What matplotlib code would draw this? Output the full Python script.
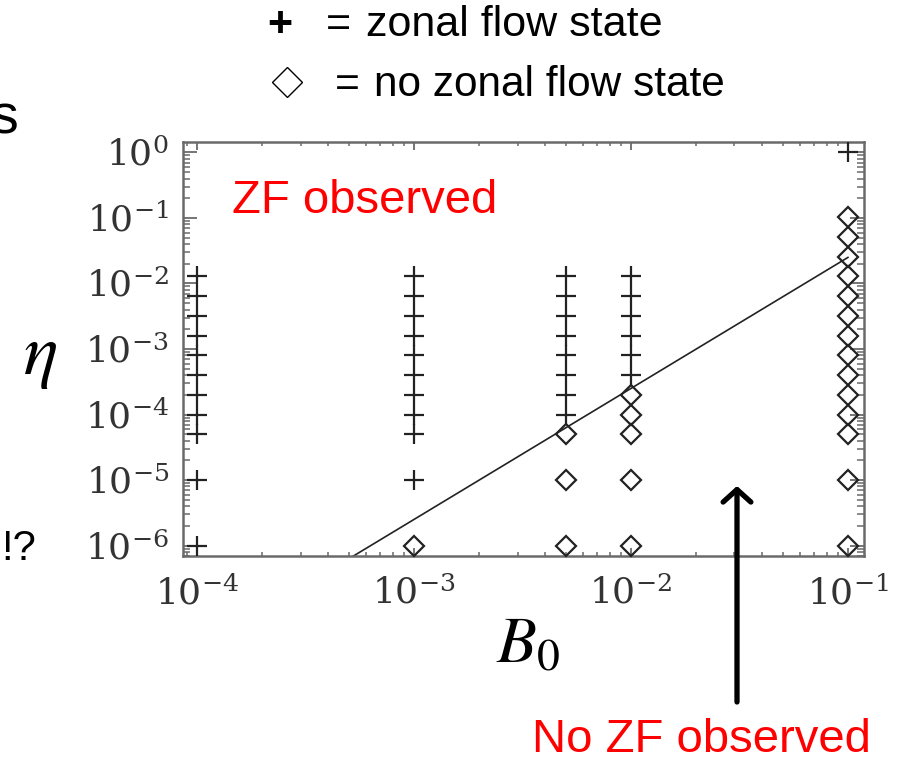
import numpy as np
import matplotlib
matplotlib.use('Agg')
import matplotlib.pyplot as plt
from matplotlib.ticker import LogLocator, FuncFormatter, NullFormatter

W, H = 909, 763

# zonal flow state (+), one list of eta values per B0 column
zf_b0 = [1e-4, 1e-3, 5e-3, 1e-2, 1e-1]
zf_eta = [
    [1e-6, 1e-5, 5e-5, 1e-4, 2e-4, 4e-4, 8e-4, 1.6e-3, 3.2e-3, 6.4e-3, 1.28e-2],
    [1e-5, 5e-5, 1e-4, 2e-4, 4e-4, 8e-4, 1.6e-3, 3.2e-3, 6.4e-3, 1.28e-2],
    [1e-4, 2e-4, 4e-4, 8e-4, 1.6e-3, 3.2e-3, 6.4e-3, 1.28e-2],
    [4e-4, 8e-4, 1.6e-3, 3.2e-3, 6.4e-3, 1.28e-2],
    [1.0],
]

# no zonal flow state (diamonds)
nzf_b0 = [1e-3, 5e-3, 1e-2, 1e-1]
nzf_eta = [
    [1e-6],
    [1e-6, 1e-5, 5e-5],
    [1e-6, 1e-5, 5e-5, 1e-4, 2e-4],
    [1e-6, 1e-5, 5e-5, 1e-4, 2e-4, 4e-4, 8e-4, 1.6e-3, 3.2e-3, 6.4e-3,
     1.28e-2, 2.56e-2, 5.12e-2, 1.024e-1],
]

# boundary line eta = c * B0^2
line_coef = 2.5
line_b0 = np.array([5e-4, 1e-1])

plt.rcParams['font.family'] = ['Liberation Sans', 'DejaVu Sans']
plt.rcParams['mathtext.fontset'] = 'dejavuserif'


def fx(x):
    return x / W


def fy(y):
    return 1 - y / H


fig = plt.figure(figsize=(W / 100, H / 100), dpi=100)
ax = fig.add_axes([fx(183), fy(556), (864 - 183) / W, (556 - 142) / H])

frame = '#6a6a6a'
ink = '#222222'

ax.plot(line_b0, line_coef * line_b0 ** 2, color=ink, lw=1.2, zorder=2)

for b, etas in zip(zf_b0, zf_eta):
    ax.plot([b] * len(etas), etas, ls='none', marker='+', ms=14, mew=1.6,
            color=ink, clip_on=False, zorder=3)

for b, etas in zip(nzf_b0, nzf_eta):
    ax.plot([b] * len(etas), etas, ls='none', marker='D', ms=10, mew=1.6,
            mfc='none', mec=ink, clip_on=False, zorder=3)

ax.set_xscale('log')
ax.set_yscale('log')
ax.set_xlim(10 ** -4.0645, 10 ** -0.926)
ax.set_ylim(10 ** -6.16, 10 ** 0.16)

fmt = FuncFormatter(lambda v, p: r'$10^{%d}$' % round(np.log10(v)))
for axis in (ax.xaxis, ax.yaxis):
    axis.set_major_locator(LogLocator(base=10, numticks=12))
    axis.set_minor_locator(LogLocator(base=10, subs=np.arange(2, 10), numticks=12))
    axis.set_major_formatter(fmt)
    axis.set_minor_formatter(NullFormatter())

ax.tick_params(which='both', direction='in', top=True, right=True,
               color=frame, labelcolor='#333333', labelsize=26)
ax.tick_params(axis='x', which='major', length=6, width=1.3, pad=15)
ax.tick_params(axis='x', which='minor', length=3, width=1.1)
ax.tick_params(axis='y', which='major', length=10, width=1.3, pad=10)
ax.tick_params(axis='y', which='minor', length=5, width=1.1)
for s in ax.spines.values():
    s.set_color(frame)
    s.set_linewidth(1.8)

# legend at the top
fig.text(fx(280), fy(36), '+', fontsize=31, ha='center', va='baseline',
         fontweight='bold')
fig.text(fx(338), fy(36), '=', fontsize=31, ha='center', va='baseline')
fig.text(fx(366), fy(36), 'zonal flow state', fontsize=31, ha='left', va='baseline')
fig.lines.append(plt.Line2D([fx(287)], [fy(82)], marker='D', ms=15, mew=1.0,
                            mfc='none', mec='black', transform=fig.transFigure))
fig.text(fx(347), fy(96), '=', fontsize=30.5, ha='center', va='baseline')
fig.text(fx(374), fy(96), 'no zonal flow state', fontsize=30.5, ha='left', va='baseline')

# annotations
fig.text(fx(232), fy(213), 'ZF observed', fontsize=34, color='#ff0000',
         ha='left', va='baseline')
fig.text(fx(532), fy(752), 'No ZF observed', fontsize=34, color='#ff0000',
         ha='left', va='baseline')
fig.text(fx(40), fy(357), r'$\eta$', fontsize=52, ha='center', va='center',
         math_fontfamily='stix')
fig.text(fx(496), fy(663), r'$B_0$', fontsize=47, ha='left', va='baseline',
         math_fontfamily='stix')

# text cut off at the left edge
fig.text(fx(18), fy(133), 's', fontsize=40, ha='right', va='baseline')
fig.text(fx(1), fy(560), '!?', fontsize=30, ha='left', va='baseline')

ax.annotate('', xy=(737, H - 486), xytext=(737, H - 702),
            xycoords='figure pixels', textcoords='figure pixels',
            arrowprops=dict(arrowstyle='->,head_length=0.45,head_width=0.5',
                            lw=3.8, color='black', mutation_scale=20,
                            shrinkA=0, shrinkB=0))

fig.savefig('out.png', dpi=100)
